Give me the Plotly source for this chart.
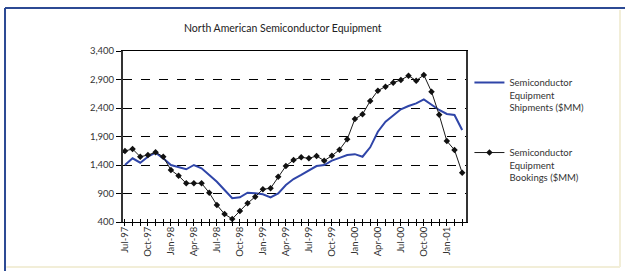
import plotly.graph_objects as go

months = ["Jul-97","Aug-97","Sep-97","Oct-97","Nov-97","Dec-97",
          "Jan-98","Feb-98","Mar-98","Apr-98","May-98","Jun-98",
          "Jul-98","Aug-98","Sep-98","Oct-98","Nov-98","Dec-98",
          "Jan-99","Feb-99","Mar-99","Apr-99","May-99","Jun-99",
          "Jul-99","Aug-99","Sep-99","Oct-99","Nov-99","Dec-99",
          "Jan-00","Feb-00","Mar-00","Apr-00","May-00","Jun-00",
          "Jul-00","Aug-00","Sep-00","Oct-00","Nov-00","Dec-00",
          "Jan-01","Feb-01","Mar-01"]

shipments = [1400, 1517, 1440, 1545, 1616, 1517,
             1400, 1360, 1325, 1400, 1342, 1225,
             1107, 961, 816, 833, 914, 903,
             886, 833, 903, 1049, 1154, 1225,
             1300, 1382, 1400, 1476, 1525, 1575,
             1590, 1545, 1710, 1984, 2160, 2277,
             2377, 2435, 2482, 2552, 2453, 2365,
             2295, 2277, 2014]

bookings = [1646, 1680, 1545, 1575, 1622, 1545,
            1312, 1212, 1079, 1079, 1079, 914,
            698, 540, 453, 593, 728, 844,
            974, 991, 1195, 1382, 1488, 1535,
            1517, 1558, 1476, 1563, 1668, 1850,
            2207, 2290, 2523, 2704, 2775, 2845,
            2891, 2967, 2880, 2979, 2686, 2280,
            1821, 1663, 1265]

ytick_vals = [400, 900, 1400, 1900, 2400, 2900, 3400]
ytick_text = ["400", "900", "1,400", "1,900", "2,400", "2,900", "3,400"]

idx = list(range(len(months)))
ticktext = [m if i % 3 == 0 else "" for i, m in enumerate(months)]

FONT = "Lato, Open Sans, sans-serif"

fig = go.Figure()
fig.add_trace(go.Scatter(
    x=idx, y=shipments, mode="lines",
    name="Semiconductor<br>Equipment<br>Shipments ($MM)",
    line=dict(color="#2f45a8", width=2),
    legendgroup="a",
))
fig.add_trace(go.Scatter(
    x=idx, y=bookings, mode="lines+markers",
    name="Semiconductor<br>Equipment<br>Bookings ($MM)",
    line=dict(color="#1a1a1a", width=1),
    marker=dict(symbol="diamond", size=5, color="#111111"),
    legendgroup="b",
))

fig.update_layout(
    width=625, height=271,
    margin=dict(l=123, r=159, t=51, b=49),
    paper_bgcolor="white",
    plot_bgcolor="white",
    font=dict(family=FONT, size=9.5, color="#333333"),
    showlegend=True,
    legend=dict(
        x=1.01, y=0.89, xanchor="left", yanchor="top",
        valign="top", tracegroupgap=30, itemwidth=30,
        font=dict(family=FONT, size=9.5, color="#333333"),
        bgcolor="rgba(0,0,0,0)",
    ),
    xaxis=dict(
        range=[-0.25, 44.5],
        tickmode="array", tickvals=idx, ticktext=ticktext,
        tickangle=-90, ticks="inside", ticklen=3, tickcolor="black",
        showgrid=False, zeroline=False,
        showline=True, linecolor="black", linewidth=1, mirror=True,
        tickfont=dict(family=FONT, size=9.5, color="#333333"),
    ),
    xaxis2=dict(
        overlaying="x", matches="x", anchor="y", side="bottom",
        tickmode="array", tickvals=idx, showticklabels=False,
        ticks="outside", ticklen=3, tickcolor="black",
        showgrid=False, zeroline=False, showline=False,
    ),
    yaxis=dict(
        range=[400, 3400],
        tickmode="array", tickvals=ytick_vals, ticktext=ytick_text,
        ticks="outside", ticklen=5, tickcolor="black",
        showgrid=True, gridcolor="black", griddash="dash", gridwidth=1,
        zeroline=False,
        showline=True, linecolor="#333333", linewidth=2, mirror=True,
        tickfont=dict(family=FONT, size=9.5, color="#333333"),
    ),
)

# invisible trace to activate xaxis2
fig.add_trace(go.Scatter(x=[0], y=[400], xaxis="x2", mode="markers",
                         marker=dict(opacity=0), showlegend=False, hoverinfo="skip"))

fig.add_annotation(
    text="North American Semiconductor Equipment",
    xref="paper", yref="paper", x=0.466, y=1.134, yanchor="middle",
    showarrow=False, font=dict(family=FONT, size=10.5, color="#222222"),
)

# outer frame
fig.add_shape(type="line", xref="paper", yref="paper",
              x0=-0.344, x1=1.47, y0=1.2515, y1=1.2515,
              line=dict(color="#2c4a94", width=2))
fig.add_shape(type="line", xref="paper", yref="paper",
              x0=-0.344, x1=-0.344, y0=1.2515, y1=-0.3,
              line=dict(color="#2c4a94", width=2))
fig.add_shape(type="line", xref="paper", yref="paper",
              x0=1.449, x1=1.449, y0=1.24, y1=-0.263,
              line=dict(color="#f2eed8", width=2))
fig.add_shape(type="line", xref="paper", yref="paper",
              x0=-0.34, x1=1.449, y0=-0.263, y1=-0.263,
              line=dict(color="#f2eed8", width=2))

fig.write_html("out.html", config={"displayModeBar": False},
               post_script="document.body.style.margin='0';")
